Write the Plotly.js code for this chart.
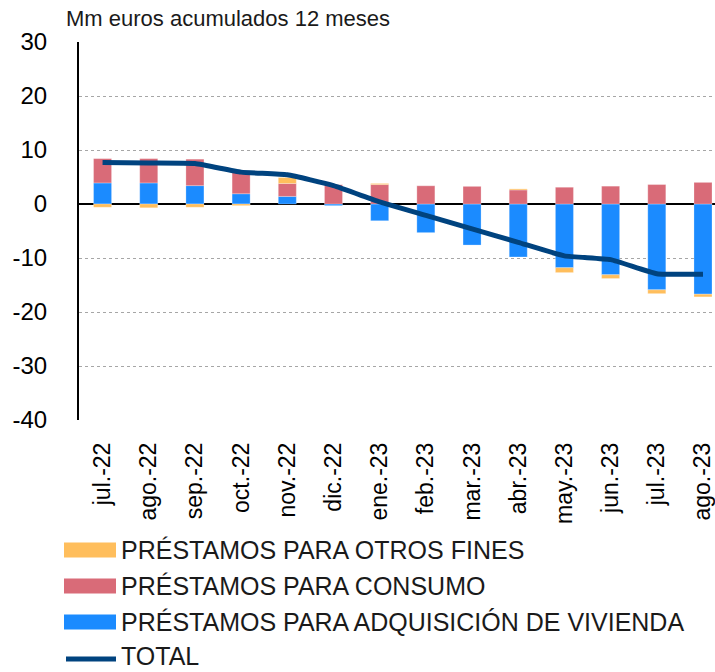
<!DOCTYPE html>
<html>
<head>
<meta charset="utf-8">
<script src="https://cdn.plot.ly/plotly-3.0.1.min.js"></script>
<style>html,body{margin:0;padding:0;background:#fff;}#chart{width:715px;height:672px;}</style>
</head>
<body>
<div id="chart"></div>
<script>
const months = ["jul.-22","ago.-22","sep.-22","oct.-22","nov.-22","dic.-22","ene.-23","feb.-23","mar.-23","abr.-23","may.-23","jun.-23","jul.-23","ago.-23"];
const vivienda = [3.9, 3.9, 3.4, 1.9, 1.4, -0.3, -3.1, -5.3, -7.6, -9.8, -11.8, -13.1, -15.9, -16.7];
const consumo = [4.5, 4.5, 4.9, 4.0, 2.4, 3.6, 3.6, 3.4, 3.3, 2.6, 3.1, 3.3, 3.6, 4.0];
const otros = [-0.6, -0.7, -0.6, -0.3, 1.1, 0.0, 0.2, 0.0, 0.0, 0.2, -0.9, -0.7, -0.7, -0.5];
const total = [7.7, 7.6, 7.5, 5.9, 5.4, 3.4, 0.4, -2.1, -4.6, -7.1, -9.6, -10.3, -12.9, -13.0];
const yTicks = [30, 20, 10, 0, -10, -20, -30, -40];

const names = ["PRÉSTAMOS PARA OTROS FINES", "PRÉSTAMOS PARA CONSUMO", "PRÉSTAMOS PARA ADQUISICIÓN DE VIVIENDA", "TOTAL"];
const colors = {otros: "#FFBE5C", consumo: "#D96B78", vivienda: "#1B8BFF", total: "#00437F"};
const font = "Liberation Sans, Arial, sans-serif";

const barLine = {color: "rgba(255,255,255,0.5)", width: 0.5};
const traces = [
  {type: "bar", x: months, y: vivienda, name: names[2], marker: {color: colors.vivienda, line: barLine}, width: 0.39},
  {type: "bar", x: months, y: consumo, name: names[1], marker: {color: colors.consumo, line: barLine}, width: 0.39},
  {type: "bar", x: months, y: otros, name: names[0], marker: {color: colors.otros, line: barLine}, width: 0.39},
  {type: "scatter", mode: "lines", x: months, y: total, name: names[3], line: {color: colors.total, width: 5, shape: "spline", smoothing: 0.4}}
];

// custom legend (paper coords computed from pixel layout)
const W = 715, H = 672, mL = 79, mR = 0, mT = 42, mB = 252;
const pw = W - mL - mR, ph = H - mT - mB;
const px = x => (x - mL) / pw;
const py = y => 1 - (y - mT) / ph;
const rows = [
  {y: 550, ty: 550, c: colors.otros, t: names[0], kind: "rect"},
  {y: 586, ty: 586, c: colors.consumo, t: names[1], kind: "rect"},
  {y: 622, ty: 622, c: colors.vivienda, t: names[2], kind: "rect"},
  {y: 659, ty: 656, c: colors.total, t: names[3], kind: "line"}
];
const shapes = [];
const annotations = [];
rows.forEach(r => {
  if (r.kind === "rect") {
    shapes.push({type: "rect", xref: "paper", yref: "paper", x0: px(64), x1: px(116), y0: py(r.y - 7.5), y1: py(r.y + 7.5), fillcolor: r.c, line: {width: 0}});
  } else {
    shapes.push({type: "line", xref: "paper", yref: "paper", x0: px(66), x1: px(116), y0: py(r.y), y1: py(r.y), line: {color: r.c, width: 5}});
  }
  annotations.push({xref: "paper", yref: "paper", x: px(120), y: py(r.ty), xanchor: "left", yanchor: "middle", borderpad: 0, text: r.t, showarrow: false, font: {family: font, size: 25, color: "#1a1a1a"}});
});

const layout = {
  width: W, height: H,
  margin: {l: mL, r: mR, t: mT, b: mB, pad: 0},
  paper_bgcolor: "#fff", plot_bgcolor: "#fff",
  barmode: "relative",
  showlegend: false,
  font: {family: font, color: "#000"},
  title: {text: "Mm euros acumulados 12 meses", xref: "container", yref: "container", x: 66 / W, y: 1 - 18 / H, xanchor: "left", yanchor: "middle", font: {family: font, size: 22, color: "#1a1a1a"}},
  xaxis: {
    type: "category", range: [-0.51, 13.26],
    tickangle: -90, tickfont: {family: font, size: 23, color: "#000"},
    ticks: "", showgrid: false, showline: false, zeroline: false,
    ticklabelstandoff: 17
  },
  yaxis: {
    range: [-40, 30], tickvals: yTicks, ticktext: yTicks.map(String),
    tickfont: {family: font, size: 24, color: "#000"},
    ticks: "", showgrid: true, gridcolor: "#a6a6a6", gridwidth: 1, griddash: "3px,3px",
    zeroline: true, zerolinecolor: "#000", zerolinewidth: 2,
    showline: true, linecolor: "#000", linewidth: 2,
    ticklabelstandoff: 25
  },
  shapes: shapes,
  annotations: annotations
};

Plotly.newPlot("chart", traces, layout, {displayModeBar: false, staticPlot: true});
</script>
</body>
</html>
